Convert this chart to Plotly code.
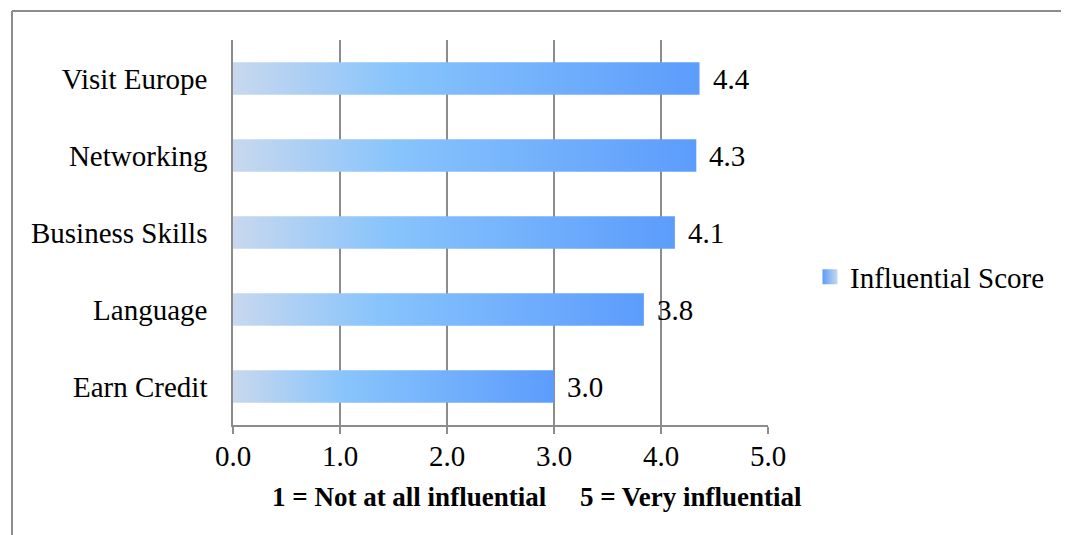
import plotly.graph_objects as go

# Data (bottom to top, as drawn)
categories = ["Earn Credit", "Language", "Business Skills", "Networking", "Visit Europe"]
scores = [3.00, 3.84, 4.13, 4.33, 4.36]
series_name = "Influential Score"
x_ticks = [0, 1, 2, 3, 4, 5]
x_tick_labels = ["0.0", "1.0", "2.0", "3.0", "4.0", "5.0"]
x_title = "1 = Not at all influential\u00a0\u00a0\u00a0\u00a0 5 = Very influential"

FONT = "Liberation Serif"
FS = 29
GRAD = [[0.0, "#c8d8ee"], [0.35, "#88c4fc"], [1.0, "#5c9cfc"]]
HALF = 0.21  # half bar thickness in category units

OFF = 8  # page body margin
W, H = 1069 - OFF, 535 - OFF
# plot area in page pixels: x 233..768, y 40..425
PX0, PX1, PY0, PY1 = 233, 768, 40, 425
ML, MT = PX0 - OFF, PY0 - OFF
MR, MB = W - (PX1 - OFF), H - (PY1 - OFF)
PW, PH = PX1 - PX0, PY1 - PY0


def px(p):  # page x -> paper
    return (p - PX0) / PW


def py(p):  # page y -> paper
    return (PY1 - p) / PH


fig = go.Figure()

for i, (cat, v) in enumerate(zip(categories, scores)):
    fig.add_trace(go.Scatter(
        x=[0, v, v, 0, 0],
        y=[i - HALF, i - HALF, i + HALF, i + HALF, i - HALF],
        mode="lines",
        line=dict(width=0),
        fill="toself",
        fillgradient=dict(type="horizontal", colorscale=GRAD),
        name=cat,
        showlegend=False,
        hoverinfo="skip",
    ))
    fig.add_annotation(
        x=v, y=i, xref="x", yref="y",
        text=f"{v:.1f}", showarrow=False,
        xanchor="left", yanchor="middle", xshift=11,
        font=dict(family=FONT, size=FS, color="#000"),
    )

# legend entry
fig.add_trace(go.Scatter(
    x=[None], y=[None], mode="markers", name=series_name,
    marker=dict(symbol="square", size=15, color="#5c9cfc",
                gradient=dict(type="horizontal", color="#c8d8ee")),
    showlegend=True,
))

fig.add_annotation(
    x=px(536.5), y=py(497), xref="paper", yref="paper",
    text=f"<b>{x_title}</b>", showarrow=False, xanchor="center", yanchor="middle",
    font=dict(family=FONT, size=27, color="#000"),
)

# outer frame (top and left edges visible)
fig.add_shape(type="line", xref="paper", yref="paper",
              x0=px(12), x1=px(1080), y0=py(11), y1=py(11),
              line=dict(color="#8c8c8c", width=2))
fig.add_shape(type="line", xref="paper", yref="paper",
              x0=px(12), x1=px(12), y0=py(545), y1=py(11),
              line=dict(color="#8c8c8c", width=2))

fig.update_layout(
    width=W, height=H,
    margin=dict(l=ML, r=MR, t=MT, b=MB),
    paper_bgcolor="white", plot_bgcolor="white",
    font=dict(family=FONT, size=FS, color="#000"),
    showlegend=True,
    legend=dict(x=px(810), y=py(277), xanchor="left", yanchor="middle",
                font=dict(family=FONT, size=FS, color="#000"),
                bgcolor="rgba(0,0,0,0)", borderwidth=0),
    xaxis=dict(range=[0, 5], tickvals=x_ticks, ticktext=x_tick_labels,
               showgrid=True, gridcolor="#8c8c8c", gridwidth=1.5,
               showline=True, linecolor="#8c8c8c", linewidth=1.5,
               ticks="outside", ticklen=7, tickcolor="#8c8c8c", tickwidth=1.5,
               ticklabelstandoff=-3, zeroline=False, fixedrange=True),
    yaxis=dict(range=[-0.5, len(categories) - 0.5],
               tickvals=list(range(len(categories))), ticktext=categories,
               showgrid=False, showline=True, linecolor="#8c8c8c", linewidth=1.5,
               ticks="", ticklabelstandoff=18, zeroline=False, fixedrange=True),
)

fig.write_html("out.html")
